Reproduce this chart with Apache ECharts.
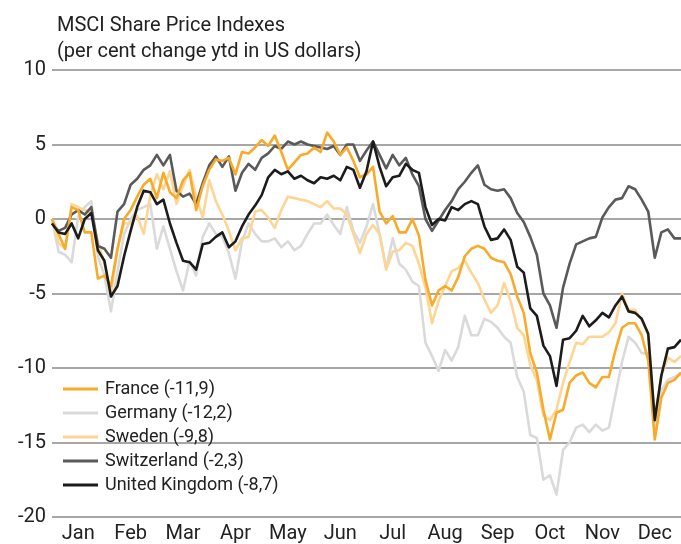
<!DOCTYPE html>
<html>
<head>
<meta charset="utf-8">
<script src="https://cdn.jsdelivr.net/npm/echarts@6/dist/echarts.min.js"></script>
<style>
html,body{margin:0;padding:0;background:#fff;}
#chart{width:681px;height:544px;}
</style>
</head>
<body>
<div id="chart"></div>
<script>
// Month labels
var months = ['Jan','Feb','Mar','Apr','May','Jun','Jul','Aug','Sep','Oct','Nov','Dec'];
// Y-axis ticks
var yTicks = [-20, -15, -10, -5, 0, 5, 10];
// Series names (legend)
var names = ['France (-11,9)', 'Germany (-12,2)', 'Sweden (-9,8)', 'Switzerland (-2,3)', 'United Kingdom (-8,7)'];
// Values sampled 8 times per month (97 points, Jan 1 .. Dec 31), per cent change ytd
var france = [0,-1.0,-2.0,0.8,0.6,-0.9,-0.9,-4.0,-3.8,-4.5,-2.0,0.0,0.6,1.5,2.3,2.7,
  1.4,3.1,1.8,1.4,2.6,3.1,0.6,2.2,3.3,4.0,3.9,4.1,3.0,4.5,4.4,4.8,
  5.3,4.9,5.6,4.5,3.3,3.8,4.3,4.4,4.8,4.5,5.8,5.2,4.3,4.8,3.9,2.8,
  3.0,3.5,0.5,-0.3,0.2,-0.9,-0.9,0.0,-1.1,-4.1,-5.8,-4.8,-4.5,-4.8,-3.9,-2.5,
  -2.0,-1.8,-2.0,-2.6,-2.8,-2.9,-3.7,-5.2,-6.3,-9.0,-10.3,-12.8,-14.8,-13.0,-12.8,-11.0,
  -10.5,-10.3,-11.0,-11.3,-10.6,-10.6,-8.8,-7.3,-7.0,-7.0,-7.8,-9.5,-14.8,-12.0,-11.0,-10.8,-10.3];
var germany = [0,-2.2,-2.4,-2.9,0.2,0.8,1.2,-2.5,-3.8,-6.2,-3.5,-1.0,0.0,0.6,0.8,1.0,
  -2.0,-0.5,-2.0,-3.5,-4.8,-2.8,-3.8,-1.2,-0.3,-1.0,-1.2,-2.3,-4.0,-1.5,-0.3,-1.0,
  -1.5,-1.5,-1.3,-1.9,-1.5,-2.1,-1.8,-1.0,-0.3,-0.3,0.3,-0.4,-1.0,0.8,-0.8,-1.6,
  -0.5,1.0,-1.0,-3.3,-1.3,-3.0,-3.4,-4.2,-4.5,-8.3,-9.2,-10.2,-8.8,-9.5,-8.6,-6.5,
  -7.8,-7.8,-6.7,-6.9,-7.3,-7.9,-8.3,-10.6,-11.6,-14.5,-14.7,-17.5,-17.2,-18.5,-15.5,-15.0,
  -14.0,-13.8,-14.3,-13.8,-14.2,-14.0,-11.8,-9.6,-7.9,-8.3,-9.0,-9.0,-14.0,-11.5,-10.8,-10.6,-10.4];
var sweden = [0,-1.6,-2.0,1.0,0.8,0.6,0.4,-1.5,-3.0,-5.0,-2.0,-0.3,-0.3,0.2,-1.0,1.6,
  3.0,2.0,3.2,1.0,2.2,3.3,1.5,0.1,2.6,1.2,0.3,-0.8,-2.1,-1.3,-1.2,0.5,
  0.6,0.1,-0.6,0.6,1.5,1.4,1.3,1.2,1.0,0.8,1.2,0.7,0.7,0.3,-1.0,-2.3,
  -1.0,-0.4,-1.0,-3.4,-2.2,-2.1,-1.6,-1.8,-3.0,-4.6,-7.0,-5.5,-4.5,-3.5,-3.3,-2.8,
  -3.6,-4.3,-5.4,-6.3,-5.8,-4.3,-5.5,-7.3,-7.8,-9.8,-10.8,-13.2,-13.5,-12.8,-11.0,-9.6,
  -8.3,-8.4,-7.9,-7.9,-7.9,-7.6,-7.0,-5.0,-6.1,-6.1,-6.8,-7.8,-13.5,-10.5,-9.3,-9.6,-9.2];
var switzerland = [-0.3,-0.8,-0.6,0.3,0.6,0.3,0.8,-1.8,-2.0,-2.6,0.5,1.0,2.3,2.7,3.3,3.6,
  4.3,3.6,4.3,1.9,1.5,1.7,1.0,2.4,3.6,4.2,3.5,4.2,1.9,3.1,3.7,3.3,
  4.1,4.4,4.9,4.7,5.2,5.0,5.2,5.0,4.9,4.8,4.7,4.9,4.3,5.0,5.0,3.9,
  4.6,5.2,4.3,3.4,4.3,3.6,4.1,3.0,2.2,0.0,-0.8,-0.1,0.6,1.2,2.0,2.5,
  3.1,3.6,2.3,2.0,1.9,2.0,1.4,0.4,-0.2,-1.2,-2.4,-5.0,-5.8,-7.3,-4.6,-3.0,
  -1.7,-1.5,-1.3,-1.2,0.1,0.8,1.3,1.4,2.2,2.0,1.3,0.5,-2.6,-0.9,-0.7,-1.3,-1.3];
var uk = [-0.3,-0.9,-1.0,-0.3,-1.3,0.0,0.4,-2.1,-2.8,-5.2,-4.5,-2.5,-0.8,0.8,1.9,1.8,
  1.0,1.3,-0.3,-1.6,-2.8,-2.9,-3.4,-1.7,-1.6,-1.2,-0.9,-1.9,-1.5,-0.5,0.3,0.9,
  1.6,2.8,3.3,3.0,3.2,2.7,2.9,2.6,2.4,2.8,2.7,2.9,2.6,3.5,3.3,2.1,
  3.2,5.2,3.5,2.2,2.8,2.9,3.7,3.3,3.1,0.8,-0.4,0.0,-0.1,0.8,0.6,1.0,
  1.2,1.0,-0.5,-1.4,-1.3,-0.7,-1.4,-3.2,-3.6,-6.0,-6.5,-8.5,-9.2,-11.2,-8.1,-8.0,
  -7.5,-6.5,-7.2,-6.8,-6.3,-6.6,-5.8,-5.2,-6.2,-6.3,-6.7,-7.7,-13.5,-10.5,-8.7,-8.6,-8.1];

var colors = ['#F8AA2A', '#DADADA', '#FDD595', '#5A5A5A', '#1C1C1C'];
var zOrder = [4, 1, 2, 3, 5];
var seriesVals = [france, germany, sweden, switzerland, uk];
var stepsPerMonth = 8;

function toPairs(arr) {
  return arr.map(function (v, i) { return [i / stepsPerMonth, v]; });
}

var chart = echarts.init(document.getElementById('chart'), null, {renderer: 'canvas'});
var font = 'Roboto, "Noto Sans", sans-serif';
var option = {
  animation: false,
  backgroundColor: '#fff',
  textStyle: {fontFamily: font},
  title: {
    text: 'MSCI Share Price Indexes\n(per cent change ytd in US dollars)',
    left: 52, top: 8,
    textStyle: {fontSize: 20, fontWeight: 'normal', color: '#222', lineHeight: 26, fontFamily: font}
  },
  legend: {
    orient: 'vertical',
    left: 58, top: 375,
    itemWidth: 35, itemHeight: 3,
    itemGap: 6,
    icon: 'rect',
    data: names,
    textStyle: {fontSize: 18, color: '#222', lineHeight: 18, fontFamily: font, padding: [0, 0, 0, 2]}
  },
  grid: {left: 52, right: 0, top: 70, bottom: 23, containLabel: false},
  xAxis: [{
    type: 'category',
    data: months,
    boundaryGap: true,
    axisLine: {show: false},
    axisTick: {show: false},
    splitLine: {show: false},
    axisLabel: {fontSize: 20, color: '#222', margin: 7, fontFamily: font, interval: 0}
  }, {
    type: 'value',
    min: 0, max: 12,
    show: false
  }],
  yAxis: {
    type: 'value',
    min: yTicks[0], max: yTicks[yTicks.length - 1], interval: 5,
    axisLine: {show: false},
    axisTick: {show: false},
    axisLabel: {fontSize: 20, color: '#222', margin: 6, fontFamily: font},
    splitLine: {show: true, lineStyle: {color: '#8a8a8a', width: 1.5}}
  },
  series: names.map(function (n, k) {
    return {
      name: n,
      type: 'line',
      xAxisIndex: 1,
      data: toPairs(seriesVals[k]),
      showSymbol: false,
      symbol: 'none',
      z: zOrder[k] + 2,
      color: colors[k],
      lineStyle: {color: colors[k], width: 2.6, join: 'round'}
    };
  })
};
chart.setOption(option);
</script>
</body>
</html>
